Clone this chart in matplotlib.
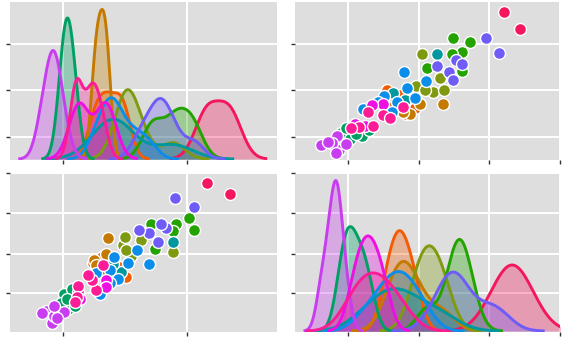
import matplotlib
matplotlib.use("Agg")
import matplotlib.pyplot as plt
import seaborn as sns

# ---- data (var1 = first measurement, var2 = second measurement) ----
groups = ["A", "B", "C", "D", "E", "F", "G", "H", "I", "J", "K", "L"]
colors = ["#F4175E", "#F35B04", "#C47A00", "#7E9A10", "#22A300", "#00A064",
          "#00979E", "#0A8EEA", "#6F5CF7", "#C93DF0", "#EE0FE3", "#FB1C96"]

v1_A = [7.69, 7.32]
v2_A = [4.21, 4.44]
v1_B = [5.63, 6.01, 5.49, 5.90, 5.75]
v2_B = [2.95, 2.55, 2.82, 2.74, 2.66]
v1_C = [5.72, 5.60, 5.50, 5.64, 5.54, 5.70]
v2_C = [3.34, 2.71, 2.88, 2.62, 2.78, 3.02]
v1_D = [6.78, 6.10, 5.96, 6.00, 6.26, 6.01]
v2_D = [3.05, 2.97, 3.20, 3.36, 3.30, 3.09]
v1_E = [7.12, 7.04, 6.83, 6.78, 6.48, 6.42]
v2_E = [3.49, 3.73, 3.61, 3.48, 3.12, 3.62]
v1_F = [5.08, 5.20, 5.02, 5.14, 4.96, 5.06]
v2_F = [1.90, 1.97, 2.20, 2.30, 2.03, 2.11]
v1_G = [6.78, 5.94, 5.69, 5.80]
v2_G = [3.26, 2.64, 2.34, 2.81]
v1_H = [6.39, 6.20, 6.05, 5.83, 5.89, 5.76, 5.76, 5.54, 5.60]
v2_H = [2.80, 3.10, 2.83, 2.95, 2.51, 2.69, 2.43, 2.62, 2.21]
v1_I = [7.12, 6.81, 6.66, 6.58, 6.53, 6.39, 6.23]
v2_I = [3.95, 4.14, 3.53, 3.61, 3.26, 3.43, 3.49]
v1_J = [5.02, 4.83, 4.72, 4.86, 4.66, 4.85, 4.90]
v2_J = [1.85, 1.62, 1.87, 1.77, 1.83, 1.97, 1.72]
v1_K = [5.70, 5.24, 5.28, 5.69]
v2_K = [2.49, 2.24, 2.10, 2.34]
v1_L = [5.54, 5.47, 5.64, 5.24, 5.22, 5.19, 5.41]
v2_L = [2.29, 2.49, 2.78, 2.36, 2.15, 2.04, 2.59]

var1 = [v1_A, v1_B, v1_C, v1_D, v1_E, v1_F, v1_G, v1_H, v1_I, v1_J, v1_K, v1_L]
var2 = [v2_A, v2_B, v2_C, v2_D, v2_E, v2_F, v2_G, v2_H, v2_I, v2_J, v2_K, v2_L]

# axis scales / ticks (no labels shown in the reference)
v1_col_lim = (4.145, 8.452)
v1_col_ticks = [5, 7]
v1_row_lim = (4.505, 7.903)
v1_row_ticks = [5, 6, 7]
v2_col_lim = (1.249, 5.003)
v2_col_ticks = [2, 3, 4, 5]
v2_row_lim = (1.44, 4.64)
v2_row_ticks = [2.22, 3.02, 3.83, 4.64]

# KDE smoothing per group (styling)
bw_var1 = [0.85, 0.8, 1.2, 0.85, 0.85, 1.6, 0.85, 0.85, 0.8, 1.5, 0.85, 0.85]
bw_var2 = [1.9, 1.1, 1.0, 1.6, 1.0, 1.0, 1.0, 1.0, 1.0, 1.0, 1.0, 1.2]

BG = "#DEDEDE"

fig = plt.figure(figsize=(5.71, 3.47), dpi=100)
ax_tl = fig.add_axes([0.0175, 0.5389, 0.4676, 0.4553])
ax_tr = fig.add_axes([0.5166, 0.5389, 0.4641, 0.4553])
ax_bl = fig.add_axes([0.0175, 0.0432, 0.4676, 0.4582])
ax_br = fig.add_axes([0.5166, 0.0432, 0.4641, 0.4582])


def style(ax, xlim, xticks, ylim, yticks):
    ax.set_facecolor(BG)
    for s in ax.spines.values():
        s.set_visible(False)
    ax.set_xlim(*xlim)
    ax.set_ylim(*ylim)
    ax.set_xticks(xticks)
    ax.set_yticks(yticks)
    ax.grid(True, color="white", linewidth=1.4)
    ax.set_axisbelow(True)
    ax.tick_params(length=3, width=1, color="#333333",
                   labelleft=False, labelbottom=False)
    ax.set_xlabel("")
    ax.set_ylabel("")


style(ax_tl, v1_col_lim, v1_col_ticks, v1_row_lim, v1_row_ticks)
style(ax_tr, v2_col_lim, v2_col_ticks, v1_row_lim, v1_row_ticks)
style(ax_bl, v1_col_lim, v1_col_ticks, v2_row_lim, v2_row_ticks)
style(ax_br, v2_col_lim, v2_col_ticks, v2_row_lim, v2_row_ticks)

# scatter panels
for g, c, a, b in zip(groups, colors, var1, var2):
    ax_tr.scatter(b, a, s=74, color=c, edgecolor="white", linewidth=1.0, zorder=3)
    ax_bl.scatter(a, b, s=74, color=c, edgecolor="white", linewidth=1.0, zorder=3)


def diag(ax, data_list, bws, xlim):
    tw = ax.twinx()
    for c, d, bw in zip(colors, data_list, bws):
        sns.kdeplot(x=d, ax=tw, color=c, fill=True, alpha=0.33, linewidth=0,
                    bw_adjust=bw)
        sns.kdeplot(x=d, ax=tw, color=c, fill=False, linewidth=2.1,
                    bw_adjust=bw)
    top = tw.get_ylim()[1]
    tw.set_ylim(-0.006 * top, top)
    tw.set_yticks([])
    for s in tw.spines.values():
        s.set_visible(False)
    tw.set_ylabel("")
    tw.set_xlabel("")
    ax.set_xlim(*xlim)
    ax.set_xlabel("")


diag(ax_tl, var1, bw_var1, v1_col_lim)
diag(ax_br, var2, bw_var2, v2_col_lim)

fig.savefig("out.png", dpi=100)
